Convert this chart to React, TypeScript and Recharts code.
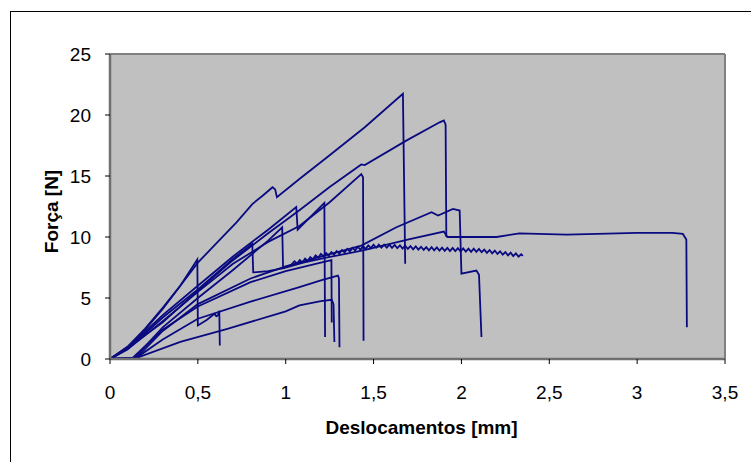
import React from 'react';
import { LineChart, Line, XAxis, YAxis, CartesianGrid, ReferenceLine } from 'recharts';

type Pt = [number, number];

const xTicks = [0, 0.5, 1, 1.5, 2, 2.5, 3, 3.5];
const yTicks = [0, 5, 10, 15, 20, 25];

// peak ~21.7 at 1.67
const curveA: Pt[] = [
  [0, 0], [0.1, 1.0], [0.2, 2.5], [0.3, 4.2], [0.4, 6.0], [0.5, 7.9], [0.62, 9.7],
  [0.72, 11.2], [0.81, 12.7], [0.87, 13.4], [0.925, 14.08], [0.94, 13.9], [0.95, 13.26],
  [1.078, 14.75], [1.25, 16.7], [1.45, 19.0], [1.667, 21.74], [1.68, 7.8],
];

// peak ~19.5 at 1.9
const curveB: Pt[] = [
  [0, 0], [0.1, 0.9], [0.3, 3.0], [0.5, 5.6], [0.7, 8.1], [0.9, 10.3], [1.078, 12.2],
  [1.25, 14.1], [1.43, 15.95], [1.45, 15.9], [1.686, 17.9], [1.876, 19.4], [1.9, 19.55],
  [1.91, 19.2], [1.914, 10.0],
];

// peak ~12.3 at 1.95, second drop at 2.1
const curveC: Pt[] = [
  [0, 0], [0.15, 0.1], [0.3, 2.3], [0.5, 4.5], [0.8, 6.6], [1.0, 7.6], [1.2, 8.4],
  [1.43, 9.3], [1.63, 10.8], [1.83, 12.03], [1.867, 11.76], [1.952, 12.3], [1.99, 12.17],
  [2.0, 7.0], [2.085, 7.25], [2.1, 6.9], [2.114, 1.8],
];

// peak ~15.1 at 1.43
const curveD: Pt[] = [
  [0, 0], [0.1, 0.8], [0.3, 3.1], [0.5, 5.5], [0.7, 7.8], [0.9, 9.6], [1.078, 10.9],
  [1.25, 12.85], [1.43, 15.15], [1.44, 14.9], [1.443, 1.5],
];

// peaks 12.5 at 1.06 and 12.8 at 1.22
const curveE: Pt[] = [
  [0, 0], [0.1, 0.9], [0.3, 3.6], [0.5, 6.0], [0.7, 8.4], [0.9, 10.6], [1.06, 12.45],
  [1.068, 10.6], [1.22, 12.8], [1.224, 1.8],
];

// peak 9.5 at 0.81, long plateau ~10.3 up to 3.28
const curveL: Pt[] = [
  [0, 0], [0.1, 0.8], [0.3, 3.4], [0.5, 5.7], [0.7, 8.2], [0.81, 9.45], [0.815, 7.1],
  [0.9, 7.2], [0.99, 7.45], [1.1, 7.9], [1.23, 8.3], [1.44, 8.9], [1.7, 9.8], [1.9, 10.45],
  [1.92, 10.0], [2.2, 10.0], [2.33, 10.3], [2.6, 10.2], [3.0, 10.34], [3.2, 10.34],
  [3.26, 10.25], [3.28, 9.8], [3.283, 2.6],
];

// peak 10.8 at 0.98, then the serrated curve up to 2.35
const curveK: Pt[] = [
  [0, 0], [0.14, 0.1], [0.3, 2.6], [0.5, 5.0], [0.7, 7.3], [0.9, 9.7], [0.98, 10.8],
  [0.985, 7.5], [1.03, 7.7],
  [1.05, 8.02], [1.065, 7.82], [1.08, 8.11], [1.095, 7.91], [1.11, 8.22], [1.125, 8.03],
  [1.14, 8.35], [1.155, 8.17], [1.17, 8.49], [1.185, 8.3], [1.2, 8.62], [1.215, 8.41],
  [1.23, 8.69], [1.245, 8.48], [1.26, 8.77], [1.275, 8.56], [1.29, 8.84], [1.305, 8.64],
  [1.32, 8.93], [1.335, 8.73], [1.35, 9.02], [1.365, 8.82], [1.38, 9.11], [1.395, 8.91],
  [1.41, 9.19], [1.425, 8.97], [1.44, 9.25], [1.455, 9.03], [1.47, 9.31], [1.485, 9.09],
  [1.5, 9.37], [1.515, 9.12], [1.53, 9.37], [1.545, 9.12], [1.56, 9.37], [1.575, 9.12],
  [1.59, 9.37], [1.605, 9.11], [1.62, 9.35], [1.635, 9.08], [1.65, 9.32], [1.665, 9.05],
  [1.68, 9.29], [1.695, 9.02], [1.71, 9.26], [1.725, 8.99], [1.74, 9.23], [1.755, 8.97],
  [1.77, 9.2], [1.785, 8.94], [1.8, 9.17], [1.815, 8.91], [1.83, 9.16], [1.845, 8.9],
  [1.86, 9.14], [1.875, 8.88], [1.89, 9.13], [1.905, 8.87], [1.92, 9.11], [1.935, 8.85],
  [1.95, 9.1], [1.965, 8.84], [1.98, 9.08], [1.995, 8.82], [2.01, 9.07], [2.025, 8.81],
  [2.04, 9.05], [2.055, 8.79], [2.07, 9.04], [2.085, 8.78], [2.1, 9.02], [2.115, 8.75],
  [2.13, 8.97], [2.145, 8.7], [2.16, 8.93], [2.175, 8.66], [2.19, 8.89], [2.205, 8.61],
  [2.22, 8.83], [2.235, 8.55], [2.25, 8.77], [2.265, 8.49], [2.28, 8.71], [2.295, 8.43],
  [2.31, 8.66], [2.325, 8.39], [2.34, 8.58], [2.35, 8.45],
];

// ~8.1 at 1.26, drop to 3
const curveM: Pt[] = [
  [0, 0], [0.13, 0.1], [0.3, 2.4], [0.5, 4.3], [0.8, 6.3], [1.0, 7.2], [1.2, 7.9],
  [1.26, 8.1], [1.262, 3.0],
];

// spike 8.1 at 0.5
const curveSpike: Pt[] = [
  [0, 0], [0.1, 1.0], [0.2, 2.4], [0.3, 4.1], [0.4, 6.0], [0.497, 8.15], [0.5, 2.75],
  [0.55, 3.2], [0.595, 3.7], [0.605, 3.5], [0.615, 3.6], [0.622, 3.95], [0.625, 1.1],
];

// peak 6.8 at 1.3
const curve68: Pt[] = [
  [0, 0], [0.15, 0.1], [0.3, 1.6], [0.5, 3.3], [0.8, 4.7], [1.078, 5.89], [1.2, 6.45],
  [1.297, 6.84], [1.303, 6.6], [1.306, 0.97],
];

// peak 4.9 at 1.26
const curve5: Pt[] = [
  [0, 0], [0.145, 0.05], [0.4, 1.4], [0.668, 2.47], [1.0, 3.9], [1.078, 4.39], [1.2, 4.75],
  [1.262, 4.85], [1.272, 4.5], [1.277, 1.4],
];

const curves = [curveA, curveB, curveC, curveD, curveE, curveL, curveK, curveM, curveSpike, curve68, curve5];

const toRows = (pts: Pt[]) => pts.map(([x, y]) => ({ x, y }));

const fmt = (v: number) => String(v).replace('.', ',');

const tickStyle = { fill: '#000', fontSize: 19, fontFamily: 'Liberation Sans, Arial, sans-serif' };

const App = () => {
  return (
    <div style={{ position: 'absolute', left: 0, top: 0, width: 751, height: 462, background: '#fff' }}>
      <div
        style={{
          position: 'absolute',
          left: 10,
          top: 11,
          width: 741,
          height: 451,
          borderLeft: '1px solid #000',
          borderTop: '1px solid #000',
          boxSizing: 'border-box',
        }}
      />
      <div style={{ position: 'absolute', left: 0, top: 0 }}>
        <LineChart
          width={751}
          height={462}
          margin={{ top: 54, right: 26, bottom: 43, left: 50 }}
          style={{ fontFamily: 'Liberation Sans, Arial, sans-serif' }}
        >
          <CartesianGrid fill="#C0C0C0" stroke="none" horizontal={false} vertical={false} />
          <XAxis
            type="number"
            dataKey="x"
            domain={[0, 3.5]}
            ticks={xTicks}
            tickFormatter={fmt}
            height={60}
            tick={tickStyle}
            tickSize={5}
            tickMargin={22}
            axisLine={{ stroke: '#707070', strokeWidth: 2.5 }}
            tickLine={{ stroke: '#000' }}
            label={{
              content: ({ viewBox }: any) => (
                <text
                  x={viewBox.x + viewBox.width / 2 + 4}
                  y={viewBox.y + viewBox.height + 15}
                  textAnchor="middle"
                  fontSize={19}
                  fontWeight="bold"
                  fill="#000"
                  fontFamily="Liberation Sans, Arial, sans-serif"
                >
                  Deslocamentos [mm]
                </text>
              ),
            }}
          />
          <YAxis
            type="number"
            dataKey="y"
            domain={[0, 25]}
            ticks={yTicks}
            width={60}
            tick={tickStyle}
            tickSize={5}
            tickMargin={14}
            axisLine={{ stroke: '#707070', strokeWidth: 2.5 }}
            tickLine={{ stroke: '#000' }}
            label={{
              content: ({ viewBox }: any) => {
                const cx = viewBox.x + 1;
                const cy = viewBox.y + viewBox.height / 2 + 5;
                return (
                  <text
                    x={cx}
                    y={cy}
                    transform={`rotate(-90 ${cx} ${cy})`}
                    textAnchor="middle"
                    dominantBaseline="central"
                    fontSize={19}
                    fontWeight="bold"
                    fill="#000"
                    fontFamily="Liberation Sans, Arial, sans-serif"
                  >
                    Força [N]
                  </text>
                );
              },
            }}
          />
          <ReferenceLine y={25} stroke="#808080" strokeWidth={2} />
          <ReferenceLine x={3.5} stroke="#808080" strokeWidth={2} />
          {curves.map((c, i) => (
            <Line
              key={i}
              data={toRows(c)}
              dataKey="y"
              type="linear"
              stroke="#0a0a80"
              strokeWidth={1.8}
              dot={false}
              activeDot={false}
              isAnimationActive={false}
            />
          ))}
        </LineChart>
      </div>
    </div>
  );
};

export default App;
